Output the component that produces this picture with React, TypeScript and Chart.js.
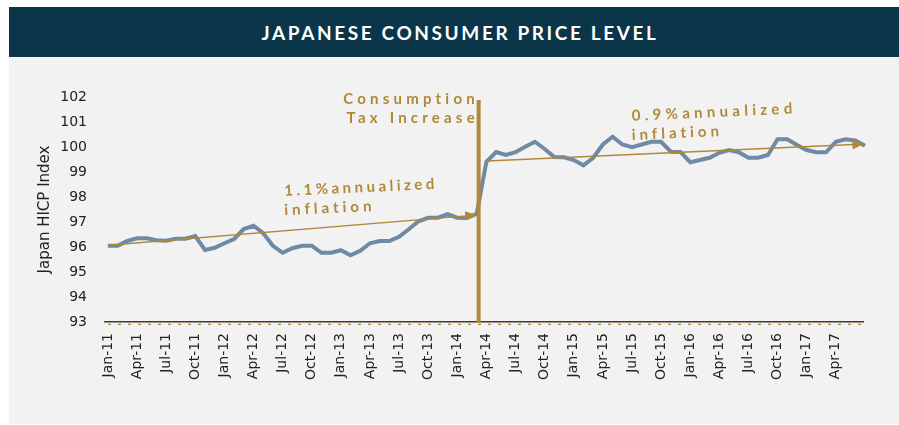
import React, { useEffect, useRef } from "react";
import { Chart, registerables } from "chart.js";

Chart.register(...registerables);

// ---------- data ----------
const months: string[] = [
  "Jan-11", "Feb-11", "Mar-11", "Apr-11", "May-11", "Jun-11", "Jul-11", "Aug-11", "Sep-11", "Oct-11", "Nov-11", "Dec-11",
  "Jan-12", "Feb-12", "Mar-12", "Apr-12", "May-12", "Jun-12", "Jul-12", "Aug-12", "Sep-12", "Oct-12", "Nov-12", "Dec-12",
  "Jan-13", "Feb-13", "Mar-13", "Apr-13", "May-13", "Jun-13", "Jul-13", "Aug-13", "Sep-13", "Oct-13", "Nov-13", "Dec-13",
  "Jan-14", "Feb-14", "Mar-14", "Apr-14", "May-14", "Jun-14", "Jul-14", "Aug-14", "Sep-14", "Oct-14", "Nov-14", "Dec-14",
  "Jan-15", "Feb-15", "Mar-15", "Apr-15", "May-15", "Jun-15", "Jul-15", "Aug-15", "Sep-15", "Oct-15", "Nov-15", "Dec-15",
  "Jan-16", "Feb-16", "Mar-16", "Apr-16", "May-16", "Jun-16", "Jul-16", "Aug-16", "Sep-16", "Oct-16", "Nov-16", "Dec-16",
  "Jan-17", "Feb-17", "Mar-17", "Apr-17", "May-17", "Jun-17", "Jul-17",
];

const cpi: number[] = [
  96.05, 96.05, 96.24, 96.35, 96.35, 96.27, 96.25, 96.33, 96.33, 96.44, 95.88, 95.97,
  96.15, 96.32, 96.72, 96.85, 96.55, 96.05, 95.77, 95.95, 96.05, 96.05, 95.77, 95.77,
  95.87, 95.67, 95.85, 96.15, 96.24, 96.24, 96.41, 96.71, 97.03, 97.17, 97.17, 97.31,
  97.17, 97.16, 97.33, 99.41, 99.8, 99.68, 99.79, 100.01, 100.21, 99.92, 99.6, 99.59,
  99.48, 99.27, 99.57, 100.1, 100.41, 100.1, 99.99, 100.1, 100.21, 100.21, 99.81, 99.8,
  99.39, 99.48, 99.57, 99.77, 99.88, 99.79, 99.57, 99.57, 99.68, 100.31, 100.31, 100.08,
  99.88, 99.79, 99.79, 100.21, 100.31, 100.26, 100.05,
];

// tick positions (month index) shown on the x axis: every quarter
const tickIndices: number[] = [0, 3, 6, 9, 12, 15, 18, 21, 24, 27, 30, 33, 36, 39, 42, 45, 48, 51, 54, 57, 60, 63, 66, 69, 72, 75];
const yTicks: number[] = [93, 94, 95, 96, 97, 98, 99, 100, 101, 102];

// trend arrows: [startIndex, startValue, endIndex, endValue]
const trendBefore: number[] = [0, 96.07, 38, 97.28];
const trendAfter: number[] = [39.1, 99.44, 77.9, 100.12];
const taxIncreaseIndex = 38.2;

const trendBeforeText: string[] = ["1.1%annualized", "inflation"];
const trendAfterText: string[] = ["0.9%annualized", "inflation"];
const taxText: string[] = ["Consumption", "Tax Increase"];

const TITLE = "JAPANESE CONSUMER PRICE LEVEL";
const Y_TITLE = "Japan HICP Index";

// ---------- styles ----------
const GOLD = "#b08838";
const BLUE = "#7089a5";
const NAVY = "#0b3548";
const PANEL = "#f2f2f2";
const TEXT = "#222222";
const FONT = "DejaVu Sans";
const ANNOT_FONT = "700 15px Lato";

function drawArrow(ctx: CanvasRenderingContext2D, x1: number, y1: number, x2: number, y2: number) {
  const ang = Math.atan2(y2 - y1, x2 - x1);
  const headLen = 11.5;
  const headHalf = 4.7;
  const bx = x2 - headLen * Math.cos(ang);
  const by = y2 - headLen * Math.sin(ang);
  ctx.strokeStyle = GOLD;
  ctx.lineWidth = 1.3;
  ctx.setLineDash([]);
  ctx.beginPath();
  ctx.moveTo(x1, y1);
  ctx.lineTo(bx + 1, by);
  ctx.stroke();
  ctx.fillStyle = GOLD;
  ctx.beginPath();
  ctx.moveTo(x2, y2);
  ctx.lineTo(bx - headHalf * Math.sin(ang), by + headHalf * Math.cos(ang));
  ctx.lineTo(bx + headHalf * Math.sin(ang), by - headHalf * Math.cos(ang));
  ctx.closePath();
  ctx.fill();
}

function drawTilted(ctx: CanvasRenderingContext2D, text: string, x: number, y: number, deg: number) {
  ctx.save();
  ctx.translate(x, y);
  ctx.rotate((-deg * Math.PI) / 180);
  ctx.fillText(text, 0, 0);
  ctx.restore();
}

const annotationPlugin = {
  id: "annotations",
  afterDatasetsDraw(chart: any) {
    const { ctx, chartArea } = chart;
    const xs = chart.scales.x;
    const ys = chart.scales.y;
    ctx.save();

    // dashed gold rule under the axis
    ctx.strokeStyle = GOLD;
    ctx.lineWidth = 1.2;
    ctx.setLineDash([3, 7]);
    ctx.beginPath();
    ctx.moveTo(chartArea.left + 3, chartArea.bottom + 2.4);
    ctx.lineTo(chartArea.right, chartArea.bottom + 2.4);
    ctx.stroke();
    ctx.setLineDash([]);

    // trend arrows
    drawArrow(
      ctx,
      xs.getPixelForValue(trendBefore[0]), ys.getPixelForValue(trendBefore[1]),
      xs.getPixelForValue(trendBefore[2]), ys.getPixelForValue(trendBefore[3])
    );
    drawArrow(
      ctx,
      xs.getPixelForValue(trendAfter[0]), ys.getPixelForValue(trendAfter[1]),
      xs.getPixelForValue(trendAfter[2]), ys.getPixelForValue(trendAfter[3])
    );

    // consumption tax vertical line
    const vx = xs.getPixelForValue(taxIncreaseIndex);
    ctx.strokeStyle = GOLD;
    ctx.lineWidth = 4;
    ctx.beginPath();
    ctx.moveTo(vx, ys.getPixelForValue(101.88));
    ctx.lineTo(vx, chartArea.bottom + 1);
    ctx.stroke();

    // texts
    ctx.fillStyle = GOLD;
    ctx.font = ANNOT_FONT;
    ctx.textAlign = "left";
    ctx.textBaseline = "alphabetic";

    (ctx as any).letterSpacing = "3.5px";
    const tbx = xs.getPixelForValue(18.2);
    drawTilted(ctx, trendBeforeText[0], tbx, ys.getPixelForValue(98.05), 2.6);
    (ctx as any).letterSpacing = "4px";
    drawTilted(ctx, trendBeforeText[1], tbx, ys.getPixelForValue(97.28), 2.6);

    (ctx as any).letterSpacing = "4.3px";
    const tax = xs.getPixelForValue(54.0);
    drawTilted(ctx, trendAfterText[0], tax, ys.getPixelForValue(101.05), 2.6);
    (ctx as any).letterSpacing = "4px";
    drawTilted(ctx, trendAfterText[1], tax, ys.getPixelForValue(100.28), 2.6);

    (ctx as any).letterSpacing = "4.2px";
    const rightEdge = vx - 4;
    const baselines = [101.72, 100.97];
    taxText.forEach((t, i) => {
      const w = ctx.measureText(t).width - 4.2;
      ctx.fillText(t, rightEdge - w, ys.getPixelForValue(baselines[i]));
    });

    (ctx as any).letterSpacing = "0px";
    ctx.restore();
  },
};

export default function App() {
  const canvasRef = useRef<HTMLCanvasElement | null>(null);

  useEffect(() => {
    if (!canvasRef.current) return;
    Chart.defaults.font.family = FONT;
    const chart = new Chart(canvasRef.current, {
      type: "line",
      data: {
        datasets: [
          {
            label: "CPI",
            data: cpi.map((v, i) => ({ x: i, y: v })),
            borderColor: BLUE,
            borderWidth: 4,
            pointRadius: 0,
            tension: 0,
            fill: false,
            clip: false as any,
          },
        ],
      },
      options: {
        animation: false,
        responsive: false,
        maintainAspectRatio: false,
        layout: { padding: { left: 0, top: 40, right: 36, bottom: 32 } },
        plugins: {
          legend: { display: false },
          tooltip: { enabled: false },
        },
        scales: {
          x: {
            type: "linear",
            min: -0.3,
            max: 77.8,
            afterBuildTicks: (s: any) => {
              s.ticks = tickIndices.map((v) => ({ value: v }));
            },
            afterFit: (s: any) => {
              s.height = 70;
            },
            grid: { display: false, drawTicks: false },
            border: { display: true, color: "#3c3c3c", width: 1.5 },
            ticks: {
              autoSkip: false,
              minRotation: 90,
              maxRotation: 90,
              padding: 11,
              color: TEXT,
              font: { family: FONT, size: 14 },
              callback: (v: any) => months[Number(v)] ?? "",
            },
          },
          y: {
            min: 93,
            max: 102,
            afterBuildTicks: (s: any) => {
              s.ticks = yTicks.map((v) => ({ value: v }));
            },
            afterFit: (s: any) => {
              s.width = 96;
            },
            grid: { display: false, drawTicks: false },
            border: { display: false },
            ticks: {
              padding: 18,
              color: TEXT,
              font: { family: FONT, size: 14 },
            },
            title: {
              display: true,
              text: Y_TITLE,
              color: TEXT,
              font: { family: FONT, size: 15 },
              padding: { top: 27, bottom: 0 },
            },
          },
        },
      },
      plugins: [annotationPlugin],
    });
    return () => chart.destroy();
  }, []);

  return (
    <div style={{ position: "fixed", left: 0, top: 0, width: 899, height: 425, background: "#ffffff", overflow: "hidden" }}>
      <div
        style={{
          position: "absolute",
          left: 9,
          top: 7,
          width: 890,
          height: 50,
          background: NAVY,
          color: "#ffffff",
          display: "flex",
          alignItems: "center",
          justifyContent: "center",
          font: "700 19px Lato",
          letterSpacing: "2.6px",
          paddingLeft: 12,
          boxSizing: "border-box",
        }}
      >
        {TITLE}
      </div>
      <div style={{ position: "absolute", left: 9, top: 57, width: 890, height: 367, background: PANEL }}>
        <canvas ref={canvasRef} width={890} height={367} style={{ display: "block", width: 890, height: 367 }} />
      </div>
    </div>
  );
}
